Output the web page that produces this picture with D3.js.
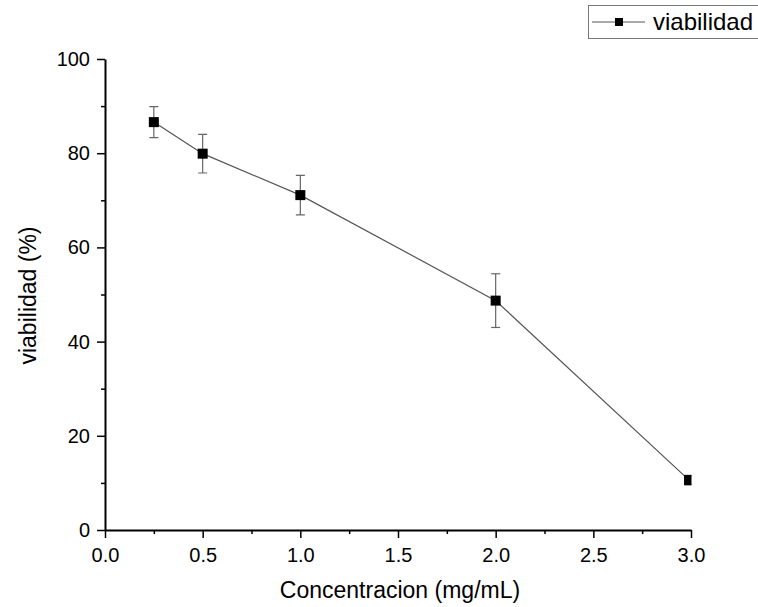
<!DOCTYPE html>
<html>
<head>
<meta charset="utf-8">
<script src="https://cdn.jsdelivr.net/npm/d3@7"></script>
<style>
  body { margin: 0; background: #fff; }
  text { font-family: "Liberation Sans", Arial, sans-serif; fill: #000; }
</style>
</head>
<body>
<div id="chart"></div>
<script>
// data
var conc = [0.25, 0.5, 1.0, 2.0, 2.99];
var viab = [86.6, 79.9, 71.1, 48.7, 10.6];
var err  = [3.3, 4.1, 4.2, 5.7, 1.0];
var xTicks = [0, 0.5, 1.0, 1.5, 2.0, 2.5, 3.0];
var yTicks = [0, 20, 40, 60, 80, 100];

var W = 758, H = 607;
var margin = {top: 59, right: 67, bottom: 77, left: 105},
  width = W - margin.left - margin.right,
  height = H - margin.top - margin.bottom;

var svg = d3.select("#chart")
  .append("svg")
  .attr("width", W)
  .attr("height", H);

var g = svg.append("g")
  .attr("transform", "translate(" + margin.left + "," + margin.top + ")");

var x = d3.scaleLinear().domain([0, 3]).range([0, width]);
var y = d3.scaleLinear().domain([0, 100]).range([height, 0]);

var data = conc.map(function (c, i) { return {x: c, y: viab[i], e: err[i]}; });

// clip to the plot frame (marker at 3.0 gets cut like in the original)
svg.append("defs").append("clipPath").attr("id", "plotclip")
  .append("rect").attr("x", -20).attr("y", -20)
  .attr("width", width + 20.5).attr("height", height + 40);

var plot = g.append("g").attr("clip-path", "url(#plotclip)");

// line
plot.append("path")
  .datum(data)
  .attr("fill", "none")
  .attr("stroke", "#555")
  .attr("stroke-width", 1.2)
  .attr("d", d3.line().x(function (d) { return x(d.x); }).y(function (d) { return y(d.y); }));

// error bars
var eb = plot.selectAll(".err").data(data).enter().append("g").attr("class", "err")
  .attr("stroke", "#666").attr("stroke-width", 1.2);
eb.append("line")
  .attr("x1", function (d) { return x(d.x); }).attr("x2", function (d) { return x(d.x); })
  .attr("y1", function (d) { return y(d.y + d.e); }).attr("y2", function (d) { return y(d.y - d.e); });
eb.append("line")
  .attr("x1", function (d) { return x(d.x) - 4.5; }).attr("x2", function (d) { return x(d.x) + 4.5; })
  .attr("y1", function (d) { return y(d.y + d.e); }).attr("y2", function (d) { return y(d.y + d.e); });
eb.append("line")
  .attr("x1", function (d) { return x(d.x) - 4.5; }).attr("x2", function (d) { return x(d.x) + 4.5; })
  .attr("y1", function (d) { return y(d.y - d.e); }).attr("y2", function (d) { return y(d.y - d.e); });

// markers
plot.selectAll(".pt").data(data).enter().append("rect")
  .attr("class", "pt")
  .attr("x", function (d) { return x(d.x) - 5; })
  .attr("y", function (d) { return y(d.y) - 5; })
  .attr("width", 10).attr("height", 10)
  .attr("fill", "#000");

// axes
var xAxis = g.append("g")
  .attr("transform", "translate(0," + height + ")")
  .call(d3.axisBottom(x).tickValues(xTicks).tickFormat(d3.format(".1f")).tickSize(8).tickSizeOuter(0));
g.append("g")
  .attr("transform", "translate(0," + height + ")")
  .call(d3.axisBottom(x).tickValues([0.25, 0.75, 1.25, 1.75, 2.25, 2.75]).tickFormat("").tickSize(4).tickSizeOuter(0))
  .select(".domain").remove();

var yAxis = g.append("g")
  .call(d3.axisLeft(y).tickValues(yTicks).tickSize(8).tickSizeOuter(0));
g.append("g")
  .call(d3.axisLeft(y).tickValues([10, 30, 50, 70, 90]).tickFormat("").tickSize(4).tickSizeOuter(0))
  .select(".domain").remove();

g.selectAll(".domain").attr("stroke", "#000").attr("stroke-width", 2);
g.selectAll(".tick line").attr("stroke", "#000").attr("stroke-width", 1.5);
xAxis.attr("font-size", 20).attr("font-family", null);
yAxis.attr("font-size", 20).attr("font-family", null);
xAxis.selectAll(".tick text").style("font-size", "20px").attr("y", 13).attr("dy", "0.95em");
yAxis.selectAll(".tick text").style("font-size", "20px").attr("x", -15);

// axis titles
svg.append("text")
  .attr("x", margin.left + width / 2 + 2)
  .attr("y", 598)
  .attr("text-anchor", "middle")
  .style("font-size", "23px")
  .text("Concentracion (mg/mL)");

svg.append("text")
  .attr("transform", "translate(36," + (margin.top + height / 2 + 1) + ") rotate(-90)")
  .attr("text-anchor", "middle")
  .style("font-size", "23px")
  .text("viabilidad (%)");

// legend
var lg = svg.append("g").attr("class", "legend");
lg.append("rect")
  .attr("x", 588.5).attr("y", 5.5).attr("width", 175).attr("height", 33)
  .attr("fill", "#fff").attr("stroke", "#777").attr("stroke-width", 1);
lg.append("line")
  .attr("x1", 592).attr("x2", 645).attr("y1", 22).attr("y2", 22)
  .attr("stroke", "#555").attr("stroke-width", 1.2);
lg.append("rect")
  .attr("x", 615).attr("y", 18).attr("width", 8).attr("height", 8).attr("fill", "#000");
lg.append("text")
  .attr("x", 653).attr("y", 30)
  .style("font-size", "24px")
  .text("viabilidad");
</script>
</body>
</html>
